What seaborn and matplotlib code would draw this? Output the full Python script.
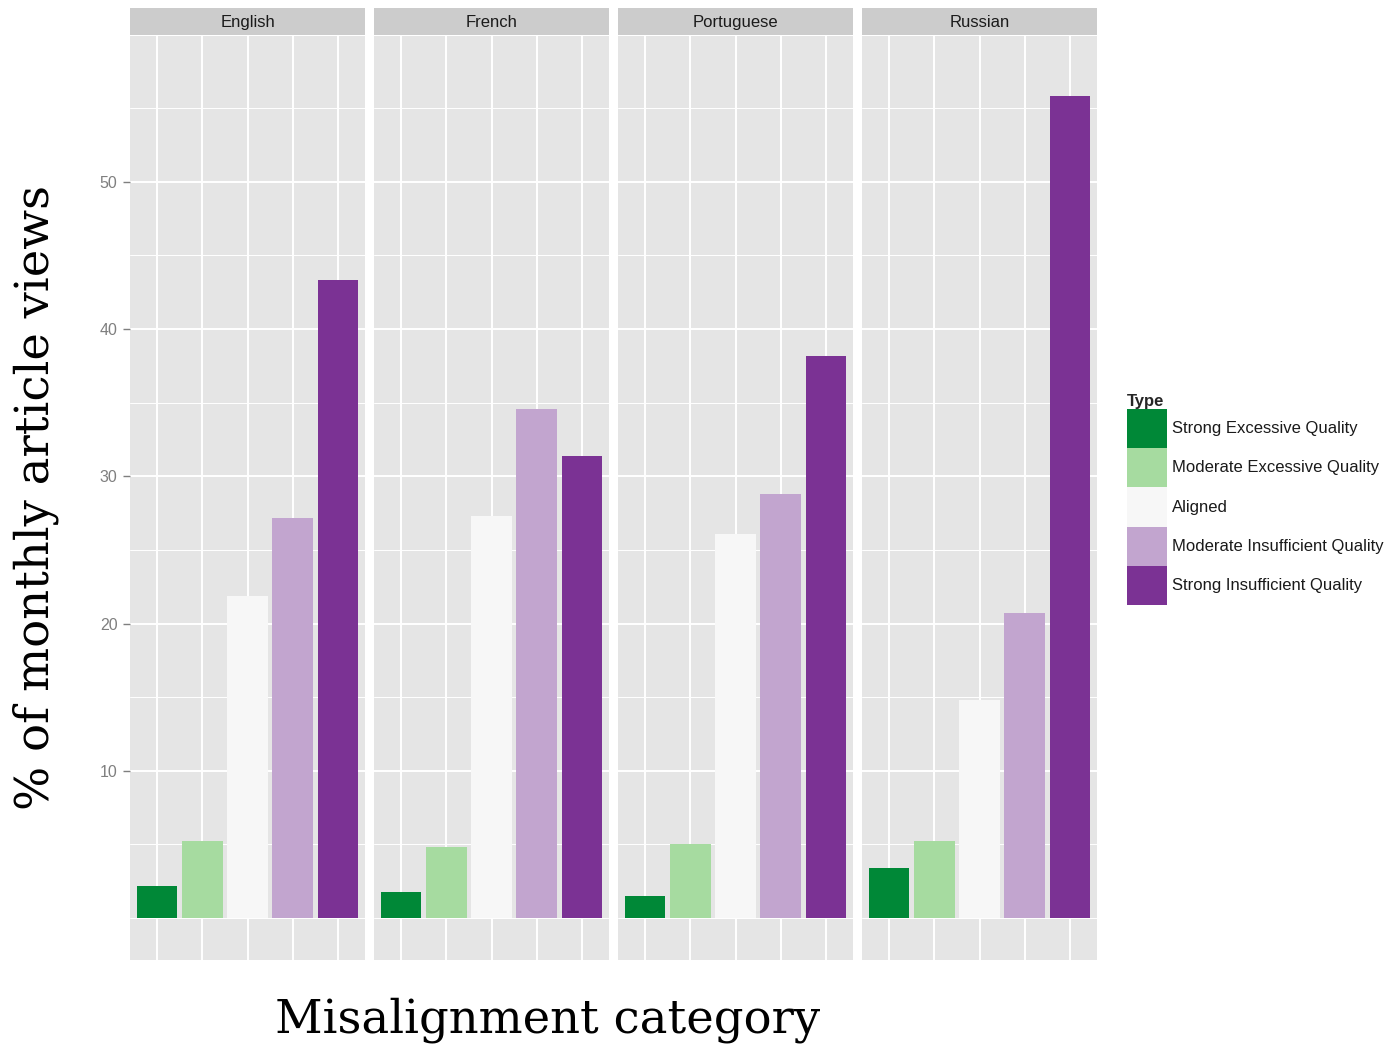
#!/usr/bin/env python3
"""Share of monthly article views by misalignment category, per language."""

import matplotlib
matplotlib.use("Agg")

import pandas as pd
import seaborn as sns
from matplotlib import pyplot as plt
from matplotlib.patches import Patch

# --- data ----------------------------------------------------------------
languages = ["English", "French", "Portuguese", "Russian"]
types = [
    "Strong Excessive Quality",
    "Moderate Excessive Quality",
    "Aligned",
    "Moderate Insufficient Quality",
    "Strong Insufficient Quality",
]
english = [2.2, 5.2, 21.9, 27.2, 43.3]
french = [1.8, 4.8, 27.3, 34.6, 31.4]
portuguese = [1.5, 5.0, 26.1, 28.8, 38.2]
russian = [3.4, 5.2, 14.8, 20.7, 55.8]
y_ticks = [10, 20, 30, 40, 50]
y_minor = [0, 5, 15, 25, 35, 45, 55]
palette = ["#008837", "#a6dba0", "#f7f7f7", "#c2a5cf", "#7b3294"]

values = {"English": english, "French": french,
          "Portuguese": portuguese, "Russian": russian}
rows = []
for lang in languages:
    for t, v in zip(types, values[lang]):
        rows.append({"Language": lang, "Type": t, "Views": v})
df = pd.DataFrame(rows)

# --- figure layout (pixel based, ggplot-like) ------------------------------
W, H = 1390, 1051
sns.set_theme(style="white")
plt.rcParams["font.family"] = ["Liberation Sans", "DejaVu Sans"]

fig = plt.figure(figsize=(W / 100, H / 100), dpi=100)
fig.patch.set_facecolor("white")

panel_w = 235
panel_top, panel_bottom = 36, 960
strip_top, strip_bottom = 8, 35
lefts = [130, 374, 618, 862]

for i, lang in enumerate(languages):
    left = lefts[i]
    ax = fig.add_axes([left / W, 1 - panel_bottom / H,
                       panel_w / W, (panel_bottom - panel_top) / H])
    sub = df[df["Language"] == lang]
    sns.barplot(data=sub, x="Type", y="Views", hue="Type", order=types,
                hue_order=types, palette=palette, width=0.9, saturation=1,
                legend=False, ax=ax, edgecolor="none")
    ax.set_facecolor("#e5e5e5")
    ax.set_axisbelow(True)
    ax.set_xlim(-0.6, 4.6)
    ax.set_ylim(-2.85, 59.9)
    ax.set_yticks(y_ticks)
    ax.set_yticks(y_minor, minor=True)
    ax.grid(which="major", color="white", linewidth=1.4)
    ax.grid(which="minor", axis="y", color="white", linewidth=0.7)
    for s in ax.spines.values():
        s.set_visible(False)
    ax.set_xlabel("")
    ax.set_ylabel("")
    ax.tick_params(axis="x", length=0, labelbottom=False)
    ax.tick_params(axis="y", which="minor", length=0)
    if i == 0:
        ax.tick_params(axis="y", which="major", length=5, width=1,
                       color="#7f7f7f", labelcolor="#7f7f7f",
                       labelsize=11.5, pad=4, left=True)
    else:
        ax.tick_params(axis="y", length=0, labelleft=False)

    # facet strip
    sax = fig.add_axes([left / W, 1 - strip_bottom / H,
                        panel_w / W, (strip_bottom - strip_top) / H])
    sax.set_facecolor("#cccccc")
    sax.set_xticks([])
    sax.set_yticks([])
    for s in sax.spines.values():
        s.set_visible(False)
    sax.text(0.5, 0.45, lang, ha="center", va="center",
             fontsize=12, color="#1a1a1a", transform=sax.transAxes)

# axis titles
fig.text(548 / W, 1 - 1020 / H, "Misalignment category", ha="center",
         va="center", fontsize=33.5, family="DejaVu Serif", color="black")
fig.text(36 / W, 1 - 498 / H, "% of monthly article views", ha="center",
         va="center", rotation=90, fontsize=33.5, family="DejaVu Serif",
         color="black")

# legend
handles = [Patch(facecolor=c, edgecolor="none", label=t)
           for c, t in zip(palette, types)]
leg = fig.legend(handles=handles, title="Type", loc="upper left",
                 bbox_to_anchor=(1115 / W, 1 - 382 / H), frameon=False,
                 fontsize=12, title_fontsize=12, handlelength=2.4,
                 handleheight=3.25, labelspacing=0.0, handletextpad=0.3,
                 borderpad=0.2, alignment="left")
leg.get_title().set_fontweight("bold")
for txt in leg.get_texts():
    txt.set_color("#1a1a1a")

fig.savefig("out.png", dpi=100)
plt.close(fig)
